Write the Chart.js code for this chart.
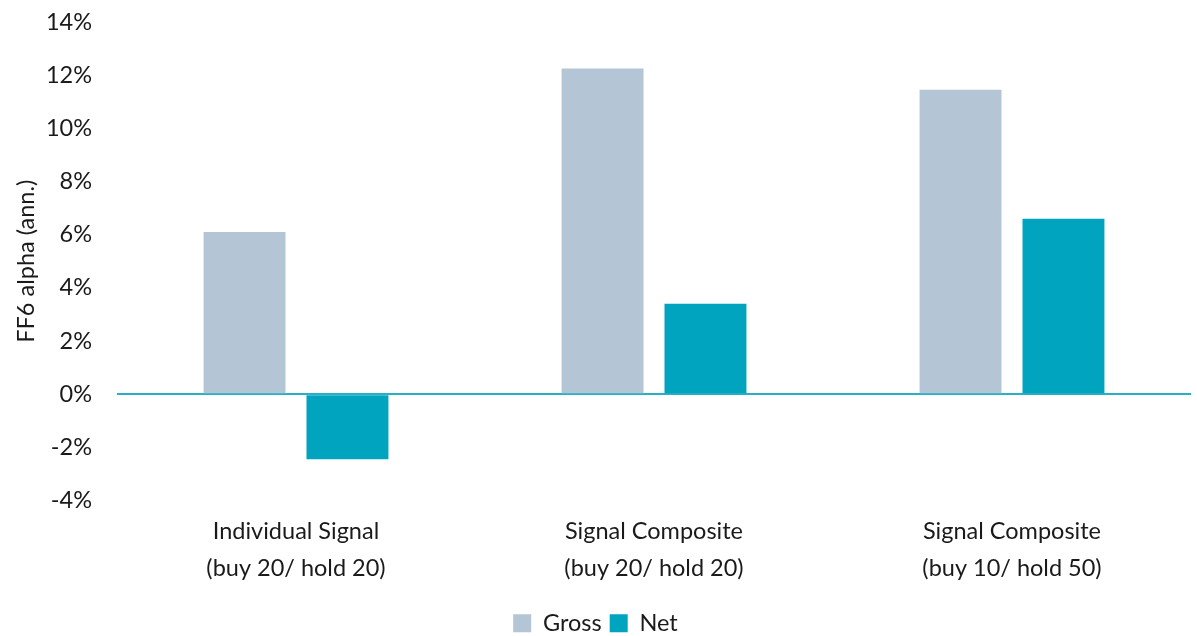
<!DOCTYPE html>
<html>
<head>
<meta charset="utf-8">
<script src="https://cdn.jsdelivr.net/npm/chart.js@4.4.1/dist/chart.umd.min.js"></script>
<style>
  html, body { margin: 0; padding: 0; background: #ffffff; }
  #wrap { width: 1197px; height: 636px; position: relative; }
</style>
</head>
<body>
<div id="wrap"><canvas id="c" width="1197" height="636"></canvas></div>
<script>
const categories = [
  ["Individual Signal", "(buy 20/ hold 20)"],
  ["Signal Composite", "(buy 20/ hold 20)"],
  ["Signal Composite", "(buy 10/ hold 50)"]
];
const grossValues = [6.1, 12.25, 11.45];
const netValues = [-2.45, 3.4, 6.6];
const yMin = -4, yMax = 14, yStep = 2;
const yTitle = "FF6 alpha (ann.)";

const FONT = "Lato, 'Liberation Sans', sans-serif";
const FS = 23.5;
const GROSS = "#b4c6d6";
const NET = "#00a4bf";

new Chart(document.getElementById('c'), {
  type: 'bar',
  data: {
    labels: categories,
    datasets: [
      { label: 'Gross', data: grossValues, backgroundColor: GROSS, categoryPercentage: 0.575, barPercentage: 0.796 },
      { label: 'Net', data: netValues, backgroundColor: NET, categoryPercentage: 0.575, barPercentage: 0.796 }
    ]
  },
  options: {
    responsive: false,
    animation: false,
    layout: { padding: { top: 22, right: 6, left: 0, bottom: -9 } },
    plugins: {
      tooltip: { enabled: false },
      legend: {
        position: 'bottom',
        labels: {
          font: { family: FONT, size: FS },
          color: '#1a1a1a',
          boxWidth: 18, boxHeight: 18,
          padding: 8
        }
      }
    },
    scales: {
      x: {
        grid: { display: false },
        border: { display: false },
        ticks: {
          font: { family: FONT, size: FS, lineHeight: 1.58 },
          color: '#1a1a1a',
          padding: 4,
          maxRotation: 0
        },
        afterFit: (s) => { s.height = 103; s.paddingLeft = 0; s.paddingRight = 0; }
      },
      y: {
        min: yMin, max: yMax,
        border: { display: false },
        grid: {
          drawTicks: false,
          color: (ctx) => (ctx.tick && ctx.tick.value === 0) ? '#29afc6' : 'rgba(0,0,0,0)',
          lineWidth: (ctx) => (ctx.tick && ctx.tick.value === 0) ? 2 : 0
        },
        ticks: {
          stepSize: yStep,
          font: { family: FONT, size: FS },
          color: '#1a1a1a',
          padding: 25,
          callback: (v) => v + '%'
        },
        title: {
          display: true,
          text: yTitle,
          font: { family: FONT, size: FS },
          color: '#1a1a1a',
          padding: { top: 12, bottom: 0 }
        },
        afterFit: (s) => { s.width = 117; s.paddingTop = 0; s.paddingBottom = 0; }
      }
    }
  }
});
</script>
</body>
</html>
